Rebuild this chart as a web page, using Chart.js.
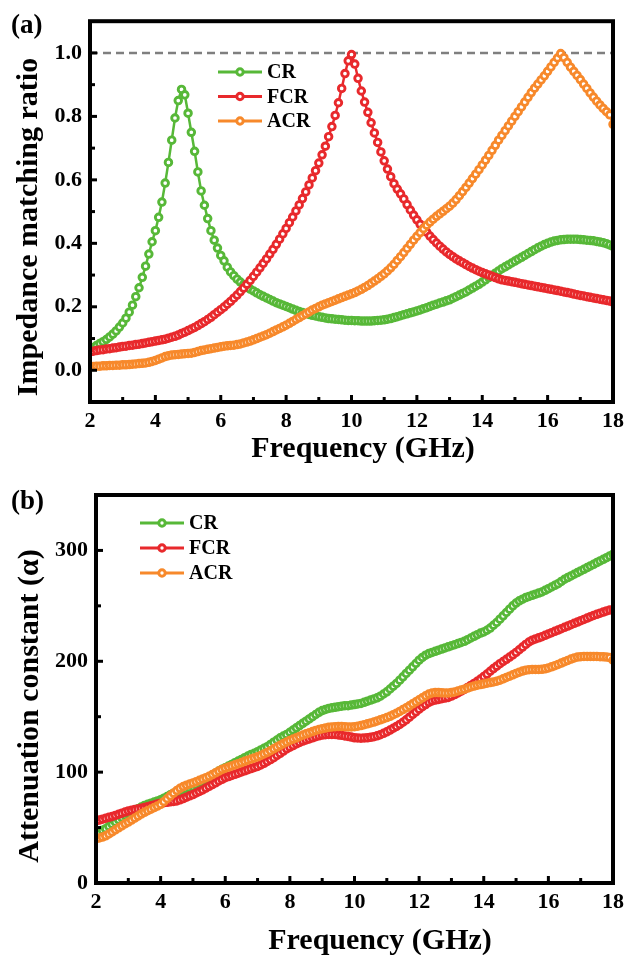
<!DOCTYPE html>
<html>
<head>
<meta charset="utf-8">
<title>Impedance matching ratio and attenuation constant</title>
<script src="https://cdn.jsdelivr.net/npm/chart.js@4.4.1/dist/chart.umd.min.js"></script>
<style>
    html, body { margin: 0; padding: 0; background: #fff; }
    #wrap { position: relative; width: 630px; height: 955px; }
    #wrap canvas { position: absolute; left: 0; }
    #matchChart { top: 0; }
    #attenChart { top: 465px; }
</style>
</head>
<body>
<div id="wrap">
    <canvas id="matchChart" width="630" height="465"></canvas>
    <canvas id="attenChart" width="630" height="490"></canvas>
</div>
<script>
// frequency sweep (GHz)
const freq = [
    2.0, 2.1, 2.2, 2.3, 2.4, 2.5, 2.6, 2.7, 2.8, 2.9,
    3.0, 3.1, 3.2, 3.3, 3.4, 3.5, 3.6, 3.7, 3.8, 3.9,
    4.0, 4.1, 4.2, 4.3, 4.4, 4.5, 4.6, 4.7, 4.8, 4.9,
    5.0, 5.1, 5.2, 5.3, 5.4, 5.5, 5.6, 5.7, 5.8, 5.9,
    6.0, 6.1, 6.2, 6.3, 6.4, 6.5, 6.6, 6.7, 6.8, 6.9,
    7.0, 7.1, 7.2, 7.3, 7.4, 7.5, 7.6, 7.7, 7.8, 7.9,
    8.0, 8.1, 8.2, 8.3, 8.4, 8.5, 8.6, 8.7, 8.8, 8.9,
    9.0, 9.1, 9.2, 9.3, 9.4, 9.5, 9.6, 9.7, 9.8, 9.9,
    10.0, 10.1, 10.2, 10.3, 10.4, 10.5, 10.6, 10.7, 10.8, 10.9,
    11.0, 11.1, 11.2, 11.3, 11.4, 11.5, 11.6, 11.7, 11.8, 11.9,
    12.0, 12.1, 12.2, 12.3, 12.4, 12.5, 12.6, 12.7, 12.8, 12.9,
    13.0, 13.1, 13.2, 13.3, 13.4, 13.5, 13.6, 13.7, 13.8, 13.9,
    14.0, 14.1, 14.2, 14.3, 14.4, 14.5, 14.6, 14.7, 14.8, 14.9,
    15.0, 15.1, 15.2, 15.3, 15.4, 15.5, 15.6, 15.7, 15.8, 15.9,
    16.0, 16.1, 16.2, 16.3, 16.4, 16.5, 16.6, 16.7, 16.8, 16.9,
    17.0, 17.1, 17.2, 17.3, 17.4, 17.5, 17.6, 17.7, 17.8, 17.9,
    18.0
];

// (a) impedance matching ratio
const crMatch = [
    0.066, 0.072, 0.078, 0.084, 0.090, 0.097, 0.105, 0.114, 0.124, 0.136,
    0.149, 0.164, 0.183, 0.205, 0.232, 0.260, 0.293, 0.328, 0.366, 0.405,
    0.440, 0.482, 0.530, 0.590, 0.655, 0.725, 0.795, 0.850, 0.885, 0.868,
    0.810, 0.750, 0.690, 0.625, 0.565, 0.520, 0.478, 0.440, 0.410, 0.385,
    0.362, 0.345, 0.325, 0.310, 0.298, 0.287, 0.278, 0.270, 0.262, 0.256,
    0.250, 0.244, 0.238, 0.233, 0.228, 0.223, 0.218, 0.213, 0.209, 0.205,
    0.201, 0.197, 0.193, 0.189, 0.185, 0.182, 0.179, 0.176, 0.173, 0.171,
    0.169, 0.167, 0.165, 0.163, 0.162, 0.161, 0.160, 0.159, 0.158, 0.157,
    0.157, 0.156, 0.156, 0.155, 0.155, 0.155, 0.155, 0.156, 0.157, 0.158,
    0.159, 0.161, 0.163, 0.166, 0.169, 0.172, 0.175, 0.178, 0.181, 0.184,
    0.187, 0.190, 0.194, 0.197, 0.201, 0.205, 0.208, 0.212, 0.215, 0.219,
    0.222, 0.227, 0.232, 0.237, 0.242, 0.247, 0.253, 0.259, 0.265, 0.271,
    0.278, 0.285, 0.292, 0.299, 0.306, 0.313, 0.320, 0.326, 0.332, 0.338,
    0.344, 0.350, 0.356, 0.362, 0.368, 0.374, 0.380, 0.386, 0.391, 0.396,
    0.400, 0.404, 0.407, 0.409, 0.411, 0.412, 0.413, 0.413, 0.413, 0.413,
    0.412, 0.411, 0.410, 0.409, 0.408, 0.406, 0.404, 0.402, 0.399, 0.395,
    0.390
];
const fcrMatch = [
    0.058, 0.060, 0.062, 0.064, 0.065, 0.067, 0.068, 0.070, 0.071, 0.073,
    0.075, 0.076, 0.078, 0.079, 0.081, 0.082, 0.084, 0.086, 0.088, 0.090,
    0.092, 0.094, 0.096, 0.098, 0.101, 0.104, 0.107, 0.111, 0.116, 0.120,
    0.125, 0.130, 0.135, 0.141, 0.147, 0.153, 0.160, 0.167, 0.175, 0.183,
    0.191, 0.199, 0.208, 0.217, 0.227, 0.237, 0.248, 0.259, 0.271, 0.283,
    0.296, 0.309, 0.323, 0.337, 0.351, 0.366, 0.381, 0.397, 0.413, 0.430,
    0.447, 0.465, 0.483, 0.502, 0.521, 0.541, 0.562, 0.584, 0.606, 0.629,
    0.653, 0.679, 0.706, 0.736, 0.768, 0.803, 0.843, 0.888, 0.935, 0.975,
    0.995, 0.965, 0.920, 0.880, 0.845, 0.813, 0.780, 0.748, 0.718, 0.688,
    0.660, 0.634, 0.610, 0.588, 0.571, 0.556, 0.540, 0.522, 0.505, 0.489,
    0.474, 0.460, 0.447, 0.435, 0.423, 0.412, 0.401, 0.391, 0.382, 0.373,
    0.365, 0.358, 0.351, 0.345, 0.339, 0.333, 0.327, 0.322, 0.317, 0.312,
    0.308, 0.304, 0.300, 0.296, 0.292, 0.288, 0.285, 0.283, 0.281, 0.279,
    0.277, 0.275, 0.273, 0.271, 0.269, 0.267, 0.265, 0.263, 0.261, 0.259,
    0.257, 0.255, 0.253, 0.251, 0.249, 0.247, 0.245, 0.243, 0.240, 0.238,
    0.236, 0.234, 0.232, 0.230, 0.228, 0.226, 0.224, 0.222, 0.220, 0.218,
    0.215
];
const acrMatch = [
    0.012, 0.012, 0.013, 0.013, 0.014, 0.014, 0.015, 0.015, 0.016, 0.016,
    0.017, 0.017, 0.018, 0.019, 0.020, 0.021, 0.022, 0.023, 0.025, 0.028,
    0.031, 0.035, 0.039, 0.043, 0.046, 0.048, 0.049, 0.050, 0.051, 0.052,
    0.053, 0.054, 0.056, 0.059, 0.062, 0.064, 0.066, 0.068, 0.070, 0.072,
    0.074, 0.076, 0.077, 0.078, 0.079, 0.081, 0.083, 0.086, 0.089, 0.092,
    0.096, 0.100, 0.104, 0.108, 0.112, 0.117, 0.122, 0.127, 0.132, 0.137,
    0.142, 0.148, 0.154, 0.160, 0.166, 0.172, 0.178, 0.184, 0.190, 0.195,
    0.200, 0.205, 0.209, 0.213, 0.217, 0.221, 0.225, 0.229, 0.233, 0.237,
    0.241, 0.245, 0.250, 0.255, 0.261, 0.267, 0.274, 0.281, 0.288, 0.296,
    0.304, 0.313, 0.323, 0.334, 0.346, 0.358, 0.371, 0.384, 0.397, 0.410,
    0.422, 0.434, 0.446, 0.457, 0.467, 0.476, 0.485, 0.493, 0.501, 0.509,
    0.517, 0.527, 0.538, 0.550, 0.563, 0.576, 0.590, 0.604, 0.618, 0.632,
    0.647, 0.662, 0.677, 0.693, 0.709, 0.725, 0.740, 0.755, 0.770, 0.785,
    0.800, 0.815, 0.830, 0.845, 0.860, 0.875, 0.889, 0.902, 0.915, 0.928,
    0.942, 0.956, 0.970, 0.984, 0.998, 0.985, 0.970, 0.955, 0.942, 0.929,
    0.916, 0.902, 0.888, 0.874, 0.861, 0.848, 0.836, 0.825, 0.815, 0.805,
    0.775
];

// (b) attenuation constant
const crAtten = [
    45, 46, 47.5, 49, 51, 53, 55, 57, 59, 61,
    62.5, 64, 65.5, 67, 68.5, 70, 71, 72, 73, 74,
    75, 76.5, 78, 79.5, 81, 82, 83, 84, 85, 86,
    87, 88.5, 90, 91.5, 93, 95, 97, 99, 101, 102.5,
    104, 105.5, 107, 108.5, 110, 111.5, 113, 114.5, 116, 117,
    118.5, 120, 121.5, 123, 125, 127, 129, 131, 132.5, 134,
    136, 138, 140, 142, 144, 146, 148, 150, 152, 154,
    155.5, 156.5, 157.5, 158, 158.5, 159, 159.5, 160, 160, 160.5,
    161, 161.5, 162, 163, 164, 165, 166, 167, 168.5, 170.5,
    172.5, 175, 177.5, 180, 183, 186, 189, 192, 195, 198,
    201, 203.5, 205.5, 207, 208, 209, 210, 211, 212, 213,
    214, 215, 216, 217, 218, 219.5, 221, 222.5, 224, 225.5,
    226.5, 228, 230, 232.5, 235, 238, 241, 244, 247, 250,
    252.5, 254.5, 256, 257.5, 258.5, 259.5, 260.5, 261.5, 262.5, 264,
    265.5, 267, 268.5, 270, 272, 274, 275.5, 277, 278.5, 280,
    281.5, 283, 284.5, 286, 287.5, 289, 290.5, 292, 293.5, 295,
    296.5
];
const fcrAtten = [
    56, 56.8, 57.6, 58.4, 59.2, 60, 61, 62, 63, 64,
    65, 65.6, 66.2, 66.8, 67.4, 68, 68.8, 69.6, 70.4, 71.2,
    72, 72.4, 72.8, 73.2, 73.6, 74, 75, 76.2, 77.4, 78.6,
    79.8, 81.2, 82.6, 84, 85.6, 87.2, 88.8, 90.4, 92, 93.5,
    95, 96, 97, 98, 99, 100.2, 101.2, 102.2, 103.2, 104.2,
    105.2, 106.5, 108, 109.6, 111.3, 113, 115, 117, 119, 121,
    122.5, 124, 125.5, 126.8, 128, 129, 130, 131, 132, 132.8,
    133.4, 133.8, 134, 134, 134, 133.6, 133.2, 132.6, 132.2, 131.6,
    131, 130.8, 130.6, 130.8, 131, 131.4, 132, 132.8, 133.8, 135,
    136.4, 138, 139.6, 141.2, 143, 145, 147.2, 149.6, 152, 154.4,
    156.8, 159, 161, 163, 164.2, 165, 165.6, 166.2, 166.8, 167.4,
    168.6, 170, 171.5, 173, 174.6, 176.4, 178.2, 180, 182, 184,
    186.2, 188.5, 191, 193.4, 195.6, 197.8, 199.8, 201.8, 203.8, 205.8,
    208, 210.4, 212.8, 215.2, 217.4, 219, 220.2, 221.2, 222.2, 223.4,
    224.6, 225.8, 227, 228.2, 229.4, 230.6, 231.8, 233, 234.2, 235.4,
    236.6, 237.8, 239, 240.2, 241.4, 242.4, 243.4, 244.4, 245.4, 246.2,
    246.5
];
const acrAtten = [
    40, 40.6, 41.4, 42.6, 44.2, 46, 48, 49.8, 51.6, 53.4,
    55, 56.8, 58.6, 60.4, 62.2, 63.8, 65.2, 66.6, 68, 69.4,
    71, 73.4, 76, 78.6, 81, 83.4, 85.4, 87, 88.2, 89.3,
    90.3, 91.4, 92.6, 93.8, 95, 96.2, 97.8, 99.4, 101, 102.4,
    103.6, 104.6, 105.6, 106.6, 107.6, 108.6, 109.8, 110.8, 111.8, 112.8,
    113.8, 115, 116.4, 117.8, 119.4, 121, 122.6, 124.2, 125.8, 127.2,
    128.6, 129.8, 131, 132.2, 133.4, 134.6, 135.6, 136.6, 137.6, 138.4,
    139.2, 139.8, 140.4, 140.8, 141, 141.2, 141.2, 141, 140.8, 140.8,
    141, 141.4, 142, 142.8, 143.6, 144.4, 145.2, 146.2, 147.2, 148.2,
    149.2, 150.4, 151.8, 153.2, 154.8, 156.4, 158, 159.8, 161.6, 163.4,
    165.2, 167, 168.8, 170.4, 171.4, 171.8, 171.8, 171.6, 171.4, 171.4,
    171.8, 172.4, 173.2, 174, 174.8, 175.8, 176.8, 177.6, 178.4, 179,
    179.6, 180.2, 180.8, 181.4, 182, 183, 184.2, 185.4, 186.6, 187.8,
    189, 190.2, 191.2, 192, 192.4, 192.6, 192.6, 192.6, 192.8, 193.2,
    194, 195, 196, 197.2, 198.4, 199.6, 200.8, 202, 203, 203.8,
    204.2, 204.4, 204.4, 204.4, 204.4, 204.4, 204.2, 204, 203.8, 203.4,
    201
];

const seriesNames = ['CR', 'FCR', 'ACR'];
const seriesColors = ['#57b838', '#e8292c', '#f7892b'];

// perfect matching reference (ratio = 1)
const refFreq = [2, 18];
const refLevel = [1.0, 1.0];

const freqTicks = [2, 4, 6, 8, 10, 12, 14, 16, 18];
const freqMinorTicks = [3, 5, 7, 9, 11, 13, 15, 17];
const matchTicks = [0.0, 0.2, 0.4, 0.6, 0.8, 1.0];
const matchMinorTicks = [0.1, 0.3, 0.5, 0.7, 0.9];
const attenTicks = [0, 100, 200, 300];
const attenMinorTicks = [50, 150, 250];

const serif = '"Liberation Serif", "Times New Roman", serif';
const tickFont = { family: serif, size: 22, weight: 'bold' };

function toPoints(xs, ys) {
    return xs.map((x, i) => ({ x: x, y: ys[i] }));
}

function curve(i, values) {
    return {
        label: seriesNames[i],
        data: toPoints(freq, values),
        borderColor: seriesColors[i],
        backgroundColor: '#fff',
        borderWidth: 2.5,
        pointRadius: 3.3,
        pointBorderWidth: 2.9,
        pointBackgroundColor: '#fff',
        pointBorderColor: seriesColors[i],
        order: 3 - i,   // ACR drawn on top, as in the figure
        inLegend: true
    };
}

// frame, inward ticks, in-plot legend, axis titles and panel letter
function decor(cfg) {
    return {
        id: 'decor',
        afterDraw(chart) {
            const ctx = chart.ctx;
            const a = chart.chartArea;
            const xs = chart.scales.x;
            const ys = chart.scales.y;
            ctx.save();
            ctx.strokeStyle = '#000';
            ctx.lineWidth = 3;
            const tick = (vals, len, horiz) => vals.forEach(v => {
                ctx.beginPath();
                if (horiz) {
                    const px = xs.getPixelForValue(v);
                    ctx.moveTo(px, a.bottom);
                    ctx.lineTo(px, a.bottom - len);
                } else {
                    const py = ys.getPixelForValue(v);
                    ctx.moveTo(a.left, py);
                    ctx.lineTo(a.left + len, py);
                }
                ctx.stroke();
            });
            tick(freqTicks, 7, true);
            tick(freqMinorTicks, 5, true);
            tick(cfg.yMajor, 7, false);
            tick(cfg.yMinor, 5, false);

            ctx.lineWidth = 4;
            ctx.strokeRect(a.left, a.top, a.right - a.left, a.bottom - a.top);

            // legend
            chart.data.datasets.filter(d => d.inLegend).forEach((d, i) => {
                const y = cfg.legend.y + i * cfg.legend.step;
                const x0 = cfg.legend.x;
                ctx.strokeStyle = d.borderColor;
                ctx.lineWidth = 3;
                ctx.beginPath();
                ctx.moveTo(x0, y);
                ctx.lineTo(x0 + 44, y);
                ctx.stroke();
                ctx.beginPath();
                ctx.arc(x0 + 22, y, 3.2, 0, Math.PI * 2);
                ctx.fillStyle = '#fff';
                ctx.fill();
                ctx.stroke();
                ctx.fillStyle = '#000';
                ctx.font = 'bold 20px ' + serif;
                ctx.textAlign = 'left';
                ctx.textBaseline = 'middle';
                ctx.fillText(d.label, x0 + 49, y + 1);
            });

            ctx.fillStyle = '#000';
            ctx.textBaseline = 'alphabetic';
            ctx.textAlign = 'center';
            ctx.font = 'bold 30px ' + serif;
            ctx.fillText(cfg.xTitle[0], cfg.xTitle[1], cfg.xTitle[2]);
            ctx.save();
            ctx.translate(cfg.yTitle[1], cfg.yTitle[2]);
            ctx.rotate(-Math.PI / 2);
            ctx.fillText(cfg.yTitle[0], 0, 0);
            ctx.restore();

            ctx.textAlign = 'left';
            ctx.font = 'bold 27px ' + serif;
            ctx.fillText(cfg.panel[0], cfg.panel[1], cfg.panel[2]);
            ctx.restore();
        }
    };
}

function axes(yMin, yMax, yTicks, yFormat, yWidth, xHeight) {
    return {
        x: {
            type: 'linear', min: 2, max: 18,
            afterBuildTicks: s => { s.ticks = freqTicks.map(v => ({ value: v })); },
            afterFit: s => { s.height = xHeight; },
            grid: { display: false, drawTicks: false },
            border: { display: false },
            ticks: { font: tickFont, color: '#000', padding: 6, maxRotation: 0, autoSkip: false }
        },
        y: {
            type: 'linear', min: yMin, max: yMax,
            afterBuildTicks: s => { s.ticks = yTicks.map(v => ({ value: v })); },
            afterFit: s => { s.width = yWidth; },
            grid: { display: false, drawTicks: false },
            border: { display: false },
            ticks: { font: tickFont, color: '#000', padding: 8, autoSkip: false, callback: yFormat }
        }
    };
}

const common = {
    responsive: false,
    devicePixelRatio: 1,
    animation: false,
    events: [],
    plugins: { legend: { display: false }, tooltip: { enabled: false } }
};

new Chart(document.getElementById('matchChart'), {
    type: 'line',
    data: {
        datasets: [
            curve(0, crMatch),
            curve(1, fcrMatch),
            curve(2, acrMatch),
            {
                label: 'ref',
                data: toPoints(refFreq, refLevel),
                borderColor: '#7f7f7f',
                borderWidth: 2.5,
                borderDash: [8, 5],
                pointRadius: 0,
                order: 9
            }
        ]
    },
    options: Object.assign({}, common, {
        layout: { padding: { left: 0, top: 15, right: 13, bottom: 0 } },
        scales: axes(-0.1, 1.1, matchTicks, v => v.toFixed(1), 90, 63)
    }),
    plugins: [decor({
        yMajor: matchTicks, yMinor: matchMinorTicks,
        legend: { x: 218, y: 72, step: 24.5 },
        xTitle: ['Frequency (GHz)', 363, 457],
        yTitle: ['Impedance matching ratio', 37, 227],
        panel: ['(a)', 11, 33]
    })]
});

new Chart(document.getElementById('attenChart'), {
    type: 'line',
    data: {
        datasets: [
            curve(0, crAtten),
            curve(1, fcrAtten),
            curve(2, acrAtten)
        ]
    },
    options: Object.assign({}, common, {
        layout: { padding: { left: 0, top: 30, right: 13, bottom: 0 } },
        scales: axes(0, 350, attenTicks, v => String(v), 96, 72)
    }),
    plugins: [decor({
        yMajor: attenTicks, yMinor: attenMinorTicks,
        legend: { x: 140, y: 58, step: 25 },
        xTitle: ['Frequency (GHz)', 380, 484],
        yTitle: ['Attenuation constant (\u03b1)', 38, 241],
        panel: ['(b)', 11, 44]
    })]
});
</script>
</body>
</html>
